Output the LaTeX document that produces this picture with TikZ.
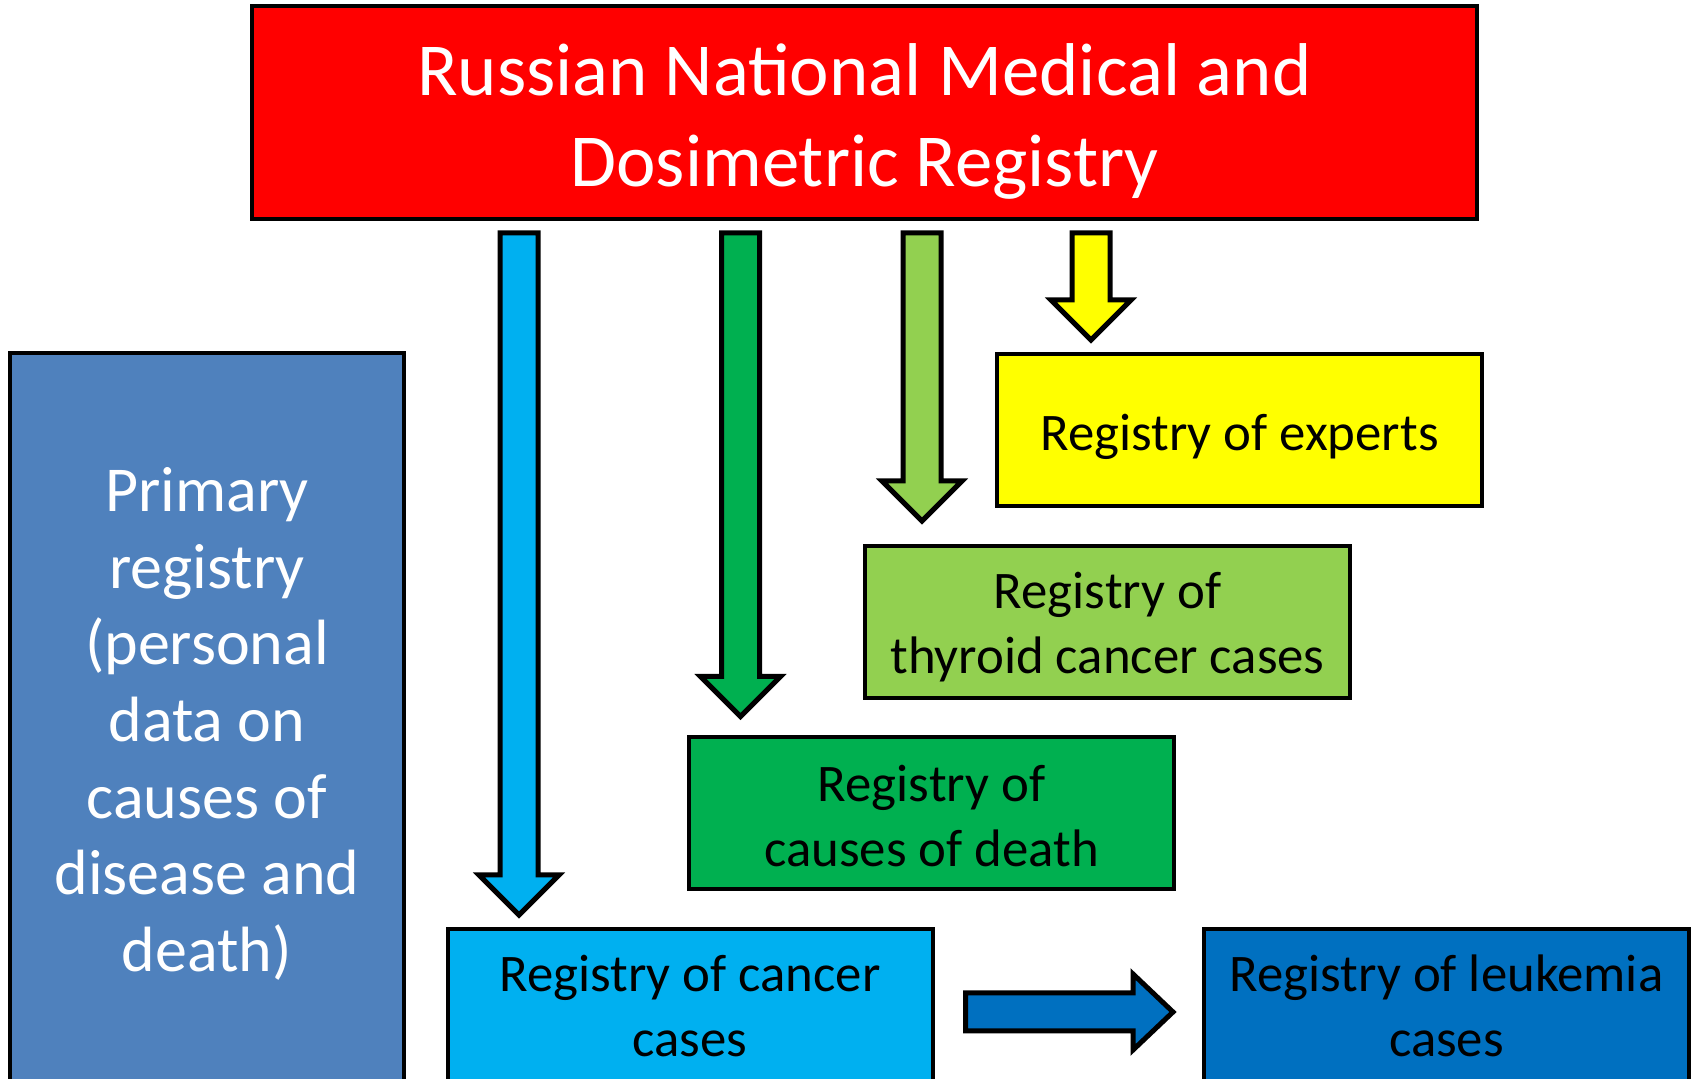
\documentclass[tikz,border=0pt]{standalone}
\usepackage{fontspec}
\setmainfont{Carlito}
\usepackage{tikz}
\usetikzlibrary{calc}
\definecolor{colorNational}{HTML}{FF0000}
\definecolor{colorPrimary}{HTML}{4F81BD}
\definecolor{colorExperts}{HTML}{FFFF00}
\definecolor{colorThyroid}{HTML}{92D050}
\definecolor{colorDeath}{HTML}{00B050}
\definecolor{colorCancer}{HTML}{00B0F0}
\definecolor{colorLeukemia}{HTML}{0070C0}
\tikzset{
  regbox/.style={draw=black, line width=2pt, inner sep=0pt,
    minimum width=242.5pt, minimum height=76pt},
  regtext/.style={align=center, inner sep=0pt, font=\fontsize{26.4}{32.4}\selectfont},
  downarrow/.style={draw=black, line width=2.5pt, fill=#1,
    to path={let \p1=(\tikztostart), \p2=(\tikztotarget) in
      (\x1-9.5pt,\y1) -- (\x1+9.5pt,\y1) -- (\x1+9.5pt,\y2+20pt) -- (\x1+20pt,\y2+20pt)
      -- (\x1,\y2) -- (\x1-20pt,\y2+20pt) -- (\x1-9.5pt,\y2+20pt) -- cycle}},
  rightarrow/.style={draw=black, line width=2.5pt, fill=#1,
    to path={let \p1=(\tikztostart), \p2=(\tikztotarget) in
      (\x1,\y1-9.5pt) -- (\x2-20pt,\y1-9.5pt) -- (\x2-20pt,\y1-19pt) -- (\x2,\y1)
      -- (\x2-20pt,\y1+19pt) -- (\x2-20pt,\y1+9.5pt) -- (\x1,\y1+9.5pt) -- cycle}},
}

\begin{document}
\begin{tikzpicture}[x=0.5pt, y=-0.5pt]
\useasboundingbox (0,0) rectangle (1694,1079);
% registries
\node[regbox, fill=colorNational, minimum width=612.5pt, minimum height=106.5pt,
  label={[regtext, text=white, yshift=-4.3pt, font=\fontsize{37.4}{45.4}\selectfont]center:Russian National Medical and\\Dosimetric Registry}] (national) at (864.5,112.5) {};
\node[regbox, fill=colorPrimary, minimum width=197pt, minimum height=364pt,
  label={[regtext, text=white, yshift=-3.5pt, font=\fontsize{32}{38.3}\selectfont]center:Primary\\registry\\(personal\\data on\\causes of\\disease and\\death)}] (primary) at (207,717) {};
\node[regbox, fill=colorExperts, label={[regtext, yshift=-3.2pt]center:Registry of experts}] (experts) at (1239.5,430) {};
\node[regbox, fill=colorThyroid, label={[regtext, yshift=-2.7pt]center:Registry of\\thyroid cancer cases}] (thyroid) at (1107.5,622) {};
\node[regbox, fill=colorDeath, label={[regtext, yshift=-1.1pt]center:Registry of\\causes of death}] (death) at (931.5,813.5) {};
\node[regbox, fill=colorCancer, label={[regtext, yshift=-0.5pt]center:Registry of cancer\\cases}] (cancer) at (690,1005) {};
\node[regbox, fill=colorLeukemia, label={[regtext, yshift=-0.5pt]center:Registry of leukemia\\cases}] (leukemia) at (1446.5,1005) {};
% arrows
\coordinate (sCancer) at (519,233);
\coordinate (sDeath) at (740.5,233);
\coordinate (sThyroid) at (922,233);
\coordinate (sExperts) at (1091,233);
\draw[downarrow=colorCancer] (sCancer) to ($(sCancer |- cancer.north)+(0,-12)$);
\draw[downarrow=colorDeath] (sDeath) to ($(sDeath |- death.north)+(0,-19)$);
\draw[downarrow=colorThyroid] (sThyroid) to ($(sThyroid |- thyroid.north)+(0,-23)$);
\draw[downarrow=colorExperts] (sExperts) to ($(sExperts |- experts.north)+(0,-12)$);
\draw[rightarrow=colorLeukemia] ($(cancer.east)+(31,7)$) to ($(leukemia.west)+(-29,7)$);
\end{tikzpicture}
\end{document}
